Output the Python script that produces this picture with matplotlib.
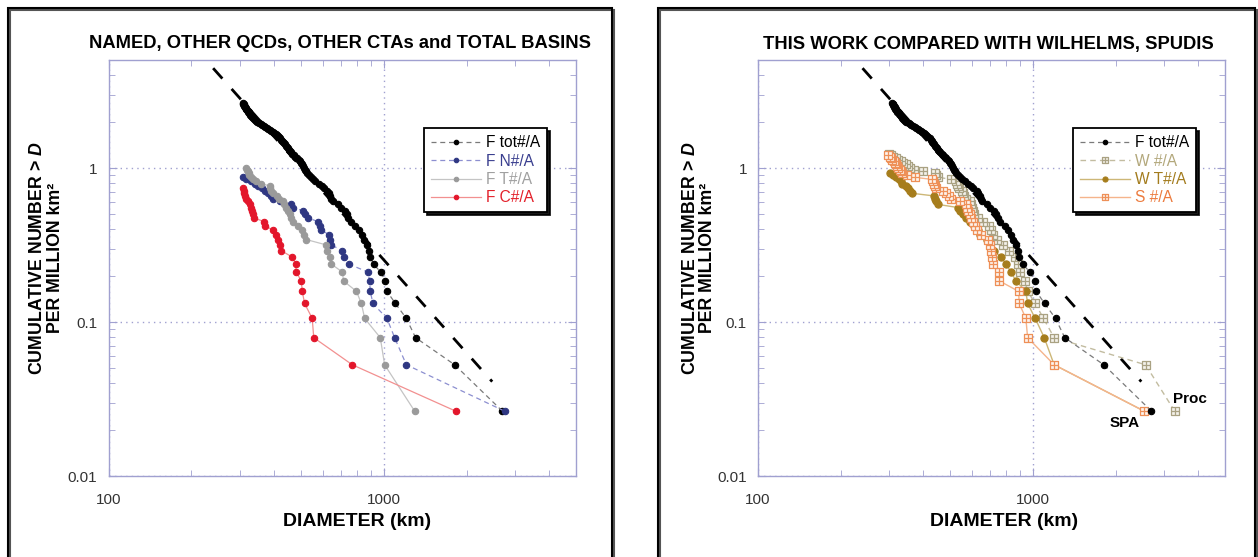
import numpy as np
import matplotlib
matplotlib.use("Agg")
import matplotlib.pyplot as plt
from matplotlib.path import Path
from matplotlib.patches import Rectangle
from matplotlib.ticker import FixedLocator, FixedFormatter, LogLocator, NullFormatter

plt.rcParams["font.family"] = ["Liberation Sans", "DejaVu Sans"]
plt.rcParams["mathtext.fontset"] = "custom"
plt.rcParams["mathtext.it"] = "Liberation Sans:bold:italic"
plt.rcParams["mathtext.rm"] = "Liberation Sans:bold"

LUNAR_AREA = 37.9  # million km^2

# Basin diameters (km), largest first
f_tot = [2700, 1811, 1306, 1209, 1103, 1028, 1015, 975, 919, 894,
         885, 870, 850, 835, 815, 790, 760, 745, 735, 725,
         700, 680, 655, 645, 640, 632, 625, 605, 595, 580,
         565, 553, 545, 535, 527, 520, 516, 512, 508, 503,
         499, 496, 492, 485, 478, 472, 466, 461, 457, 453,
         449, 445, 441, 437, 434, 431, 428, 425, 421, 417,
         413, 409, 405, 401, 396, 391, 386, 381, 376, 371,
         366, 361, 357, 353, 349, 346, 343, 340, 337, 335,
         333, 331, 330, 328, 326, 325, 323, 321, 320, 318,
         317, 316, 315, 314, 313, 312, 311, 310, 309, 308]
f_named = [2750, 1209, 1096, 1028, 914, 894, 889, 877, 748, 718,
           708, 646, 640, 632, 594, 585, 577, 531, 516, 509,
           468, 462, 419, 396, 388, 380, 369, 360, 349, 340,
           330, 317, 308]
f_other = [1296, 1008, 972, 853, 830, 796, 715, 708, 646, 640,
           625, 619, 524, 515, 505, 490, 468, 462, 455, 449,
           443, 435, 430, 415, 410, 396, 391, 387, 385, 359,
           345, 335, 330, 325, 323, 321, 319, 317]
f_cta = [1827, 769, 557, 550, 516, 506, 502, 481, 479, 466,
         425, 419, 413, 407, 396, 370, 368, 337, 335, 332,
         330, 326, 321, 317, 314, 312, 310, 308]
wilhelms = [3280, 2570, 1195, 1093, 1020, 957, 935, 895, 880, 860,
            820, 780, 740, 714, 705, 690, 658, 630, 613, 606,
            600, 596, 590, 570, 560, 556, 550, 540, 533, 530,
            527, 505, 452, 445, 440, 400, 370, 357, 350, 345,
            337, 330, 323, 318, 310, 305, 300]
wilhelms_t = [2540, 1195, 1100, 1020, 957, 943, 868, 833, 799, 766,
              724, 700, 680, 643, 630, 610, 590, 572, 556, 541,
              533, 452, 446, 440, 435, 362, 356, 352, 345, 333,
              330, 327, 319, 310, 302]
spudis = [2540, 1195, 957, 943, 892, 887, 756, 751, 716, 712,
          705, 700, 684, 645, 625, 615, 608, 595, 589, 582,
          576, 570, 545, 504, 495, 484, 470, 446, 440, 436,
          433, 428, 371, 347, 335, 332, 328, 323, 320, 318,
          315, 312, 308, 305, 302, 298]

# Reference slope -2 power law
ref_d = [240, 2480]
ref_n = [4.45, 0.041]

left_labels = ["F tot#/A", "F N#/A", "F T#/A", "F C#/A"]
right_labels = ["F tot#/A", "W #/A", "W T#/A", "S #/A"]
x_ticks = [100, 1000]
x_ticklabels = ["100", "1000"]
y_ticks = [0.01, 0.1, 1]
y_ticklabels = ["0.01", "0.1", "1"]

AX_COLOR = "#a0a0d0"

# square-with-cross marker
box_marker = Path(
    [(-1, -1), (1, -1), (1, 1), (-1, 1), (-1, -1), (0, -1), (0, 1), (-1, 0), (1, 0)],
    [Path.MOVETO, Path.LINETO, Path.LINETO, Path.LINETO, Path.CLOSEPOLY,
     Path.MOVETO, Path.LINETO, Path.MOVETO, Path.LINETO])


def cumulative(diams):
    d = np.sort(np.asarray(diams, float))[::-1]
    n = np.arange(1, len(d) + 1) / LUNAR_AREA
    return d, n


def series(ax, diams, line_color, marker_color, dashed, marker="o", ms=4.6,
           mfc=None, mew=0.8, z=3, lw=0.9):
    d, n = cumulative(diams)
    (ln,) = ax.plot(d, n, color=line_color, lw=lw, marker=marker, ms=ms,
                    mfc=marker_color if mfc is None else mfc, mec=marker_color,
                    mew=mew, zorder=z)
    if dashed:
        ln.set_dashes((4, 3))
    return ln


def style_axes(ax):
    ax.set_xscale("log")
    ax.set_yscale("log")
    ax.set_xlim(100, 5000)
    ax.set_ylim(0.01, 5)
    for s in ax.spines.values():
        s.set_color(AX_COLOR)
        s.set_linewidth(1.0)
    ax.xaxis.set_major_locator(FixedLocator(x_ticks))
    ax.xaxis.set_major_formatter(FixedFormatter(x_ticklabels))
    ax.yaxis.set_major_locator(FixedLocator(y_ticks))
    ax.yaxis.set_major_formatter(FixedFormatter(y_ticklabels))
    ax.xaxis.set_minor_locator(LogLocator(base=10, subs=range(2, 10)))
    ax.yaxis.set_minor_locator(LogLocator(base=10, subs=range(2, 10)))
    ax.xaxis.set_minor_formatter(NullFormatter())
    ax.yaxis.set_minor_formatter(NullFormatter())
    ax.tick_params(which="both", direction="in", top=True, right=True,
                   color=AX_COLOR, labelcolor="#333333", labelsize=11)
    ax.tick_params(which="major", length=6)
    ax.tick_params(which="minor", length=4)
    ax.tick_params(axis="x", which="major", pad=12)
    ax.tick_params(axis="y", which="major", pad=8)
    ax.grid(which="major", color=AX_COLOR, ls=(0, (1, 3)), lw=1.0)
    ax.plot(ref_d, ref_n, color="black", lw=2.0, dashes=(5, 5), zorder=2)


def add_legend(ax, handles, labels, colors):
    leg = ax.legend(handles, labels, loc="upper left", bbox_to_anchor=(0.675, 0.837),
                    borderaxespad=0, frameon=True, fancybox=False,
                    shadow={"color": "black", "alpha": 0.9}, edgecolor="black",
                    framealpha=1, fontsize=11.2, borderpad=0.45, labelspacing=0.22,
                    handlelength=3.2, handletextpad=0.3, markerscale=0.7)
    leg.get_frame().set_linewidth(1.3)
    for t, c in zip(leg.get_texts(), colors):
        t.set_color(c)
    return leg


W, H = 1258, 557
fig = plt.figure(figsize=(W / 100, H / 100), dpi=100)


def fx(px):
    return px / W


def fy(py):
    return 1 - py / H


ax1 = fig.add_axes([fx(108.5), fy(476), fx(576) - fx(108.5), fy(60.4) - fy(476)])
ax2 = fig.add_axes([fx(758), fy(476), fx(1225) - fx(758), fy(60.4) - fy(476)])

for ax in (ax1, ax2):
    style_axes(ax)

# left panel
h_tot = series(ax1, f_tot, "#7a7a7a", "black", True, z=3)
h_n = series(ax1, f_named, "#8c8fd0", "#2f3782", True, z=4)
h_t = series(ax1, f_other, "#c4c4c4", "#9a9a9a", False, z=5)
h_c = series(ax1, f_cta, "#f29090", "#e3162b", False, z=6)
add_legend(ax1, [h_tot, h_n, h_t, h_c], left_labels,
           ["black", "#3a3f8f", "#a0a0a0", "#e3202a"])

# right panel
h_w = series(ax2, wilhelms, "#c2bca0", "#aaa283", True, marker=box_marker,
             ms=5.4, mfc="#f4f2ea", mew=0.9, z=3, lw=1.0)
h_wt = series(ax2, wilhelms_t, "#cdb777", "#a67d1c", False, ms=5.2, z=4, lw=1.0)
h_s = series(ax2, spudis, "#f5b48c", "#ee9058", False, marker=box_marker,
             ms=5.4, mfc="#fdf3ec", mew=0.9, z=5, lw=1.0)
h_tot2 = series(ax2, f_tot, "#7a7a7a", "black", True, z=6)
add_legend(ax2, [h_tot2, h_w, h_wt, h_s], right_labels,
           ["black", "#b3a87c", "#a37c1e", "#ec7b3e"])
ax2.text(3725, 0.0316, "Proc", fontsize=11, fontweight="bold", ha="center", va="center")
ax2.text(2165, 0.0221, "SPA", fontsize=11, fontweight="bold", ha="center", va="center")

# titles and axis labels
fig.text(fx(340), fy(44), "NAMED, OTHER QCDs, OTHER CTAs and TOTAL BASINS",
         fontsize=13.2, fontweight="bold", ha="center", va="center")
fig.text(fx(988), fy(44), "THIS WORK COMPARED WITH WILHELMS, SPUDIS",
         fontsize=13.2, fontweight="bold", ha="center", va="center")
for cx in (357, 1004):
    fig.text(fx(cx), fy(521), "DIAMETER (km)", fontsize=14, fontweight="bold",
             ha="center", va="center")
for x1, x2 in ((38, 56), (690, 708)):
    fig.text(fx(x1), fy(258), r"CUMULATIVE NUMBER > $\mathit{D}$", fontsize=12.8,
             fontweight="bold", rotation=90, ha="center", va="center")
    fig.text(fx(x2), fy(258), "PER MILLION km²", fontsize=12.8,
             fontweight="bold", rotation=90, ha="center", va="center")

# panel frames
for x0, x1 in ((8, 612), (658, 1255)):
    fig.add_artist(Rectangle((fx(x0) + 2 / W, -0.1), fx(x1) - fx(x0), fy(8) + 0.1 - 2 / H,
                             fill=False, ec="#555555", lw=1.5,
                             transform=fig.transFigure, clip_on=False))
    fig.add_artist(Rectangle((fx(x0), -0.1), fx(x1) - fx(x0), fy(8) + 0.1,
                             fill=False, ec="black", lw=1.5,
                             transform=fig.transFigure, clip_on=False))

fig.savefig("out.png", dpi=100)
